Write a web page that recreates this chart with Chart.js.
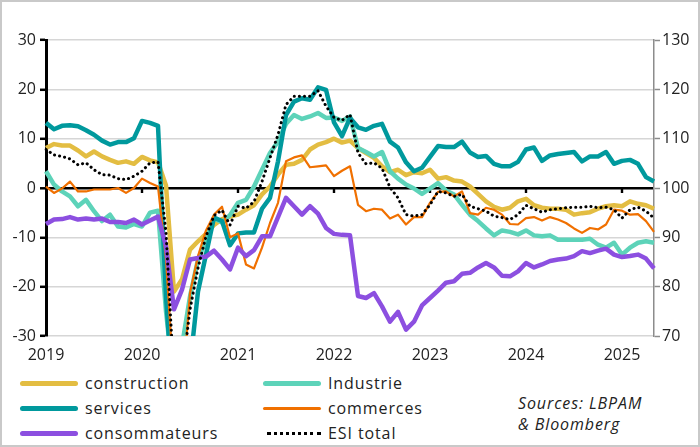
<!DOCTYPE html>
<html>
<head>
<meta charset="utf-8">
<script src="https://cdn.jsdelivr.net/npm/chart.js@4.4.1/dist/chart.umd.min.js"></script>
<style>
  html, body { margin: 0; padding: 0; background: #fff; }
  #wrap { position: relative; width: 700px; height: 447px; overflow: hidden; font-family: "Open Sans", sans-serif; color: #222; }
  #frame { position: absolute; left: 0; top: 0; width: 700px; height: 447px; box-sizing: border-box; border: 2px solid #c9c9c9; pointer-events: none; }
  #chart { position: absolute; left: 0; top: 0; }
  .item { position: absolute; height: 20px; line-height: 20px; font-size: 16px; white-space: nowrap; letter-spacing: 0.9px; }
  .swatch { position: absolute; left: 0; top: 8px; width: 58px; height: 5px; border-radius: 3px; }
  .item span { position: absolute; left: 65px; top: 0; }
  .sources { position: absolute; left: 518px; top: 393px; font-size: 16px; font-style: italic; line-height: 21px; letter-spacing: 0.9px; }
</style>
</head>
<body>
<div id="wrap">
  <canvas id="chart" width="700" height="370"></canvas>
  <div id="legend"></div>
  <div class="sources">Sources: LBPAM<br>&amp; Bloomberg</div>
  <div id="frame"></div>
</div>
<script>
// monthly, Jan 2019 - May 2025
const startYear = 2019;
const months = [];
for (let i = 0; i < 77; i++) {
  months.push((startYear + Math.floor(i / 12)) + '-' + String(i % 12 + 1).padStart(2, '0'));
}

const leftTicks = [-30, -20, -10, 0, 10, 20, 30];
const rightTicks = [70, 80, 90, 100, 110, 120, 130];

const construction = [8.1, 8.9, 8.6, 8.6, 7.6, 6.4, 7.4, 6.4, 5.7, 5.1, 5.4, 4.9, 6.3, 5.6, 5.2, 0.5, -21.0, -18.5, -12.5, -10.8,
  -9.3, -7.5, -6.3, -5.8, -5.4, -4.4, -3.5, -1.3, 0.3, 2.7, 4.7, 4.9, 5.7, 7.8, 8.8, 9.3, 10.0, 9.2, 9.6, 8.1,
  7.1, 6.1, 4.4, 3.2, 3.7, 2.6, 3.2, 3.0, 3.7, 1.9, 2.2, 1.5, 1.3, 0.3, -1.2, -2.7, -3.8, -4.4, -4.0, -2.7,
  -2.2, -3.5, -4.0, -4.2, -4.2, -4.4, -5.4, -5.1, -4.9, -4.2, -3.7, -3.5, -3.7, -2.7, -3.2, -3.5, -4.2];

const industrie = [3.4, 0.7, -0.7, -1.7, -3.7, -2.4, -4.7, -6.7, -5.4, -7.8, -8.0, -7.3, -7.8, -5.0, -4.6, -25, -40, -32, -22, -14.5,
  -10.5, -6.1, -7.0, -5.5, -3.0, -2.4, 0.3, 3.7, 7.1, 9.4, 13.0, 14.8, 14.0, 14.5, 15.2, 14.2, 14.3, 13.6, 14.5, 8.1,
  7.3, 6.4, 7.3, 3.4, 1.9, 0.7, -0.1, -1.2, -0.1, 1.0, -0.5, -1.3, -3.4, -5.4, -6.7, -8.2, -9.6, -8.6, -8.9, -9.4,
  -8.6, -9.6, -9.8, -9.6, -10.5, -10.5, -10.5, -10.5, -10.3, -11.5, -12.1, -11.1, -13.5, -12.1, -11.1, -10.8, -11.1];

const services = [13.2, 11.9, 12.6, 12.7, 12.5, 11.7, 10.8, 9.6, 8.8, 9.3, 9.3, 10.1, 13.6, 13.2, 12.6, -22, -45, -42, -36, -21,
  -13.5, -6.0, -6.7, -11.6, -9.2, -9.0, -9.0, -4.2, -2.0, 5.4, 14.8, 17.5, 18.2, 17.9, 20.4, 19.9, 13.3, 10.5, 14.2, 12.3,
  11.8, 12.6, 13.0, 9.4, 8.2, 5.2, 3.4, 4.1, 6.3, 8.5, 8.3, 8.3, 9.4, 7.2, 6.3, 6.5, 4.9, 4.4, 4.4, 5.3,
  7.8, 8.2, 5.5, 6.6, 6.9, 7.1, 7.3, 5.4, 6.4, 6.4, 7.3, 4.9, 5.5, 5.7, 4.9, 2.2, 1.3];

const commerces = [0.3, -1.0, -0.1, 1.3, -0.7, -0.7, -0.3, -0.3, -0.3, 0.0, -1.0, 0.0, 1.9, 1.0, 0.3, -14.5, -40, -42, -21.3, -13.8,
  -8.6, -5.4, -3.8, -10.0, -9.2, -15.5, -16.3, -12.1, -7.1, -3.0, 5.4, 6.2, 6.6, 4.2, 4.4, 4.6, 2.4, 3.5, 4.4, -3.4,
  -4.7, -4.2, -4.4, -6.2, -5.4, -7.4, -5.9, -5.9, -3.0, -0.8, -0.7, -1.7, -0.7, -5.1, -5.4, -4.0, -4.4, -5.4, -7.3, -7.4,
  -6.1, -5.9, -6.6, -5.9, -6.4, -7.1, -8.2, -9.1, -8.1, -8.4, -7.4, -4.4, -4.6, -5.4, -5.3, -6.7, -8.9];

const consommateurs = [-7.3, -6.4, -6.3, -5.9, -6.4, -6.2, -6.4, -6.2, -6.9, -6.9, -7.1, -6.4, -7.4, -6.6, -5.8, -11.8, -24.6, -20.6, -14.5, -14.2,
  -13.9, -12.7, -14.5, -16.5, -12.1, -13.8, -12.6, -9.8, -9.8, -5.9, -2.0, -3.7, -5.4, -3.7, -5.2, -8.1, -9.3, -9.5, -9.6, -21.9,
  -22.3, -21.3, -24.0, -27.1, -25.1, -28.7, -27.1, -23.8, -22.3, -20.8, -19.2, -18.9, -17.4, -17.2, -16.1, -15.2, -16.1, -17.8, -17.9, -16.9,
  -15.2, -16.1, -15.5, -14.8, -14.5, -14.3, -13.8, -12.8, -13.2, -12.7, -12.3, -13.5, -14.0, -13.8, -13.5, -14.3, -16.3];

// ESI total on the right axis
const esiTotal = [107.8, 106.7, 106.4, 105.9, 104.7, 105.1, 103.7, 102.7, 102.6, 101.9, 101.7, 102.4, 103.4, 105.1, 105.3, 91, 61, 62, 75.4, 83.8,
  90.2, 94.4, 95.5, 92.5, 96.3, 95.9, 97.2, 101.3, 106.1, 110.8, 116.9, 118.6, 118.6, 118.6, 119.7, 116.6, 114.3, 113.7, 114.9, 107.1,
  104.9, 105.1, 104.0, 100.1, 98.0, 94.6, 94.3, 94.6, 96.6, 99.3, 99.0, 98.3, 98.7, 96.3, 95.8, 95.3, 94.3, 94.0, 93.6, 94.6,
  96.5, 95.8, 95.1, 95.6, 95.8, 96.0, 96.1, 96.1, 96.3, 96.0, 96.1, 95.6, 93.9, 95.6, 96.1, 95.3, 93.9];

const FONT = { family: '"Open Sans", sans-serif', size: 16 };

function line(label, data, color, width, order, extra) {
  return Object.assign({
    label: label, data: data, borderColor: color, backgroundColor: color,
    borderWidth: width, pointRadius: 0, tension: 0, order: order,
    borderJoinStyle: 'round', yAxisID: 'y'
  }, extra || {});
}

const datasets = [
  line('construction', construction, '#e3bd42', 4.5, 5),
  line('Industrie', industrie, '#5dd3b9', 4.5, 4),
  line('services', services, '#00999d', 4.5, 3),
  line('commerces', commerces, '#f07000', 2.2, 2),
  line('consommateurs', consommateurs, '#8c4fe0', 4.5, 1),
  line('ESI total', esiTotal, '#000000', 3, 0, { yAxisID: 'y1', borderDash: [0.1, 5], borderCapStyle: 'round' })
];

// small year marks on the zero line
const yearMarks = {
  id: 'yearMarks',
  beforeDatasetsDraw(chart) {
    const x = chart.scales.x, y = chart.scales.y, c = chart.ctx;
    const y0 = y.getPixelForValue(0);
    c.save();
    c.fillStyle = '#000';
    months.forEach((m, i) => {
      if (i > 0 && i % 12 === 0) {
        const px = x.getPixelForValue(i);
        c.fillRect(px - 1.2, y0, 2.4, 5);
      }
    });
    c.restore();
  }
};

new Chart(document.getElementById('chart'), {
  type: 'line',
  data: { labels: months, datasets: datasets },
  plugins: [yearMarks],
  options: {
    responsive: false,
    animation: false,
    layout: { padding: { top: 40, left: 0, right: 0, bottom: 0 } },
    plugins: { legend: { display: false }, tooltip: { enabled: false } },
    scales: {
      x: {
        offset: false,
        grid: { display: false, drawTicks: false },
        border: { display: false },
        afterFit: s => { s.height = 34; },
        ticks: {
          autoSkip: false, maxRotation: 0, padding: 10, color: '#222', font: FONT,
          callback: (v, i) => (i % 12 === 0 ? months[i].slice(0, 4) : '')
        }
      },
      y: {
        position: 'left', min: -30, max: 30,
        afterBuildTicks: s => { s.ticks = leftTicks.map(v => ({ value: v })); },
        afterFit: s => { s.width = 46; },
        grid: {
          color: c => (c.tick && c.tick.value === 0 ? '#000' : '#d6d6d6'),
          lineWidth: c => (c.tick && c.tick.value === 0 ? 2.6 : 1.6),
          tickColor: '#000', tickLength: 6, tickWidth: 2.5
        },
        border: { color: '#000', width: 3 },
        ticks: { color: '#222', font: FONT, padding: 4 }
      },
      y1: {
        position: 'right', min: 70, max: 130,
        afterBuildTicks: s => { s.ticks = rightTicks.map(v => ({ value: v })); },
        afterFit: s => { s.width = 46; },
        grid: { drawOnChartArea: false, tickColor: '#8c8c8c', tickLength: 6, tickWidth: 1.5 },
        border: { color: '#8c8c8c', width: 1.5 },
        ticks: { color: '#222', font: FONT, padding: 2 }
      }
    }
  }
});

// legend: 3 rows x 2 columns, built from the datasets
const legend = document.getElementById('legend');
const cols = [20, 263];
const rows = [373, 398, 423];
datasets.forEach((d, k) => {
  const item = document.createElement('div');
  item.className = 'item';
  item.style.left = cols[k % 2] + 'px';
  item.style.top = rows[Math.floor(k / 2)] + 'px';
  const sw = document.createElement('div');
  sw.className = 'swatch';
  if (d.borderDash) {
    sw.style.background = 'none';
    sw.style.borderTop = '3px dotted #000';
    sw.style.height = '0';
    sw.style.top = '9px';
    sw.style.borderRadius = '0';
    sw.style.left = '4px';
    sw.style.width = '54px';
  } else {
    sw.style.background = d.borderColor;
    if (d.borderWidth < 3) { sw.style.height = '3px'; sw.style.top = '9px'; }
  }
  const t = document.createElement('span');
  t.textContent = d.label;
  item.appendChild(sw);
  item.appendChild(t);
  legend.appendChild(item);
});
</script>
</body>
</html>
